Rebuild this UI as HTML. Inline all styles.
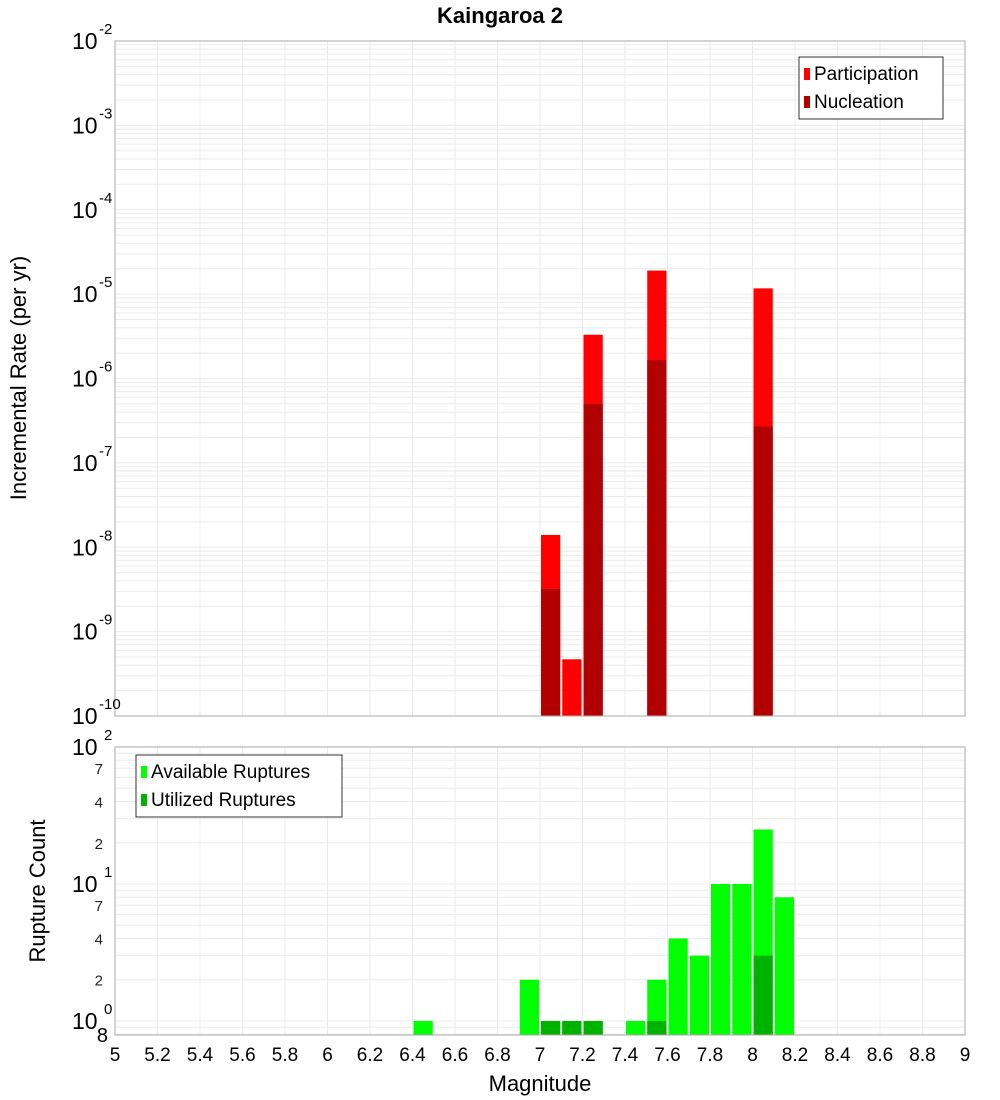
<!DOCTYPE html>
<html><head><meta charset="utf-8"><style>
body{margin:0;background:#fff;}
svg{display:block;font-family:"Liberation Sans","DejaVu Sans",sans-serif;}
</style></head><body>
<svg id="chart" width="1000" height="1100"></svg>
<script>
const topMags=[7.05,7.15,7.25,7.55,8.05];
const partRates=[1.4e-8,4.7e-10,3.3e-6,1.9e-5,1.17e-5];
const nuclRates=[3.2e-9,0,5e-7,1.65e-6,2.7e-7];
const botMags=[6.45,6.95,7.05,7.15,7.25,7.45,7.55,7.65,7.75,7.85,7.95,8.05,8.15];
const availCounts=[1,2,1,1,1,1,2,4,3,10,10,25,8];
const usedCounts=[0,0,1,1,1,0,1,0,0,0,0,3,0];
const xTicks=[5,5.2,5.4,5.6,5.8,6,6.2,6.4,6.6,6.8,7,7.2,7.4,7.6,7.8,8,8.2,8.4,8.6,8.8,9];
const topExps=[-10,-9,-8,-7,-6,-5,-4,-3,-2];
const botMinor=[2,4,7,20,40,70];

const svg=document.getElementById('chart');
const NS='http://www.w3.org/2000/svg';
function mk(tag,attrs,parent){const e=document.createElementNS(NS,tag);for(const k in attrs)e.setAttribute(k,attrs[k]);(parent||svg).appendChild(e);return e;}
const X0=115,X1=965;
const xs=m=>X0+(m-5)/4*(X1-X0);
const T0=41,T1=716;
const yT=v=>T1-(Math.log10(v)+10)/8*(T1-T0);
const B0=747,B1=1035,Bmin=Math.log10(0.79),Bmax=2;
const yB=v=>B1-(Math.log10(v)-Bmin)/(Bmax-Bmin)*(B1-B0);

// title
let t=mk('text',{x:500,y:23,'text-anchor':'middle','font-size':22,'font-weight':'bold',fill:'#000'});t.textContent='Kaingaroa 2';


// grids
const g=mk('g',{stroke:'#ebebeb','stroke-width':1});

for(const m of xTicks){mk('line',{x1:xs(m),x2:xs(m),y1:T0,y2:T1},g);mk('line',{x1:xs(m),x2:xs(m),y1:B0,y2:B1},g);}
for(let e=-10;e<-2;e++)for(let k=1;k<10;k++){const y=yT(k*Math.pow(10,e));mk('line',{x1:X0,x2:X1,y1:y,y2:y},g);}
for(let e=-1;e<2;e++)for(let k=1;k<10;k++){const v=k*Math.pow(10,e);if(v<0.79)continue;const y=yB(v);mk('line',{x1:X0,x2:X1,y1:y,y2:y},g);}

// top bars
const bw=(X1-X0)/40;
topMags.forEach((m,i)=>{
 let r=mk('rect',{x:xs(m)-bw/2+1,y:yT(partRates[i]),width:bw-2,height:T1-yT(partRates[i]),fill:'#ff0000'});
 
 if(nuclRates[i]>0){let n=mk('rect',{x:xs(m)-bw/2+1,y:yT(nuclRates[i]),width:bw-2,height:T1-yT(nuclRates[i]),fill:'#b20000'});
 }
});
botMags.forEach((m,i)=>{
 let r=mk('rect',{x:xs(m)-bw/2+1,y:yB(availCounts[i]),width:bw-2,height:B1-yB(availCounts[i]),fill:'#00ff00'});
 
 if(usedCounts[i]>0){let n=mk('rect',{x:xs(m)-bw/2+1,y:yB(usedCounts[i]),width:bw-2,height:B1-yB(usedCounts[i]),fill:'#00b200'});
 }
});

// frames
let f1=mk('rect',{x:X0,y:T0,width:X1-X0,height:T1-T0,fill:'none',stroke:'#aaa'});

let f2=mk('rect',{x:X0,y:B0,width:X1-X0,height:B1-B0,fill:'none',stroke:'#aaa'});


// top y labels
topExps.forEach(e=>{const y=yT(Math.pow(10,e));
 let tx=mk('text',{x:72,y:y+8,'font-size':23,fill:'#000'});tx.textContent='10';
 
 let s=mk('text',{x:99,y:y-7,'font-size':15,fill:'#000'});s.textContent=String(e);
 
});
// bottom y labels
[0,1,2].forEach(e=>{const y=yB(Math.pow(10,e));
 let tx=mk('text',{x:72,y:y+8,'font-size':23,fill:'#000'});tx.textContent='10';
 
 let s=mk('text',{x:104,y:y-7,'font-size':15,fill:'#000'});s.textContent=String(e);
 
});
botMinor.forEach(v=>{const y=yB(v);
 let tx=mk('text',{x:103,y:y+6,'font-size':15,fill:'#222','text-anchor':'end'});tx.textContent=String(v).charAt(0);
 });
let e8=mk('text',{x:108,y:1042,'font-size':20,fill:'#000','text-anchor':'end'});e8.textContent='8';


// x labels
xTicks.forEach(m=>{let tx=mk('text',{x:xs(m),y:1061,'font-size':19,fill:'#000','text-anchor':'middle'});
 tx.textContent=String(Math.round(m*10)/10);
 });
let xt=mk('text',{x:540,y:1091,'font-size':22,fill:'#000','text-anchor':'middle'});xt.textContent='Magnitude';

let yt1=mk('text',{x:0,y:0,'font-size':22,fill:'#000','text-anchor':'middle',transform:'translate(26,378) rotate(-90)'});yt1.textContent='Incremental Rate (per yr)';

let yt2=mk('text',{x:0,y:0,'font-size':22,fill:'#000','text-anchor':'middle',transform:'translate(45,891) rotate(-90)'});yt2.textContent='Rupture Count';


// legends
function legend(x,y,w,items,name){
 const lg=mk('g',{});
 mk('rect',{x:x,y:y,width:w,height:items.length*28+6,fill:'#fff',stroke:'#333'},lg);
 items.forEach((it,i)=>{
  let sw=mk('rect',{x:x+5,y:y+11+i*28,width:6,height:12,fill:it[1]},lg);
  
  let tx=mk('text',{x:x+15,y:y+23+i*28,'font-size':19,fill:'#000'},lg);tx.textContent=it[0];
  
 });
}
legend(799,57,144,[['Participation','#ff0000'],['Nucleation','#b20000']],'top-legend');
legend(136,755,206,[['Available Ruptures','#00ff00'],['Utilized Ruptures','#00b200']],'bottom-legend');
</script>
</body></html>
